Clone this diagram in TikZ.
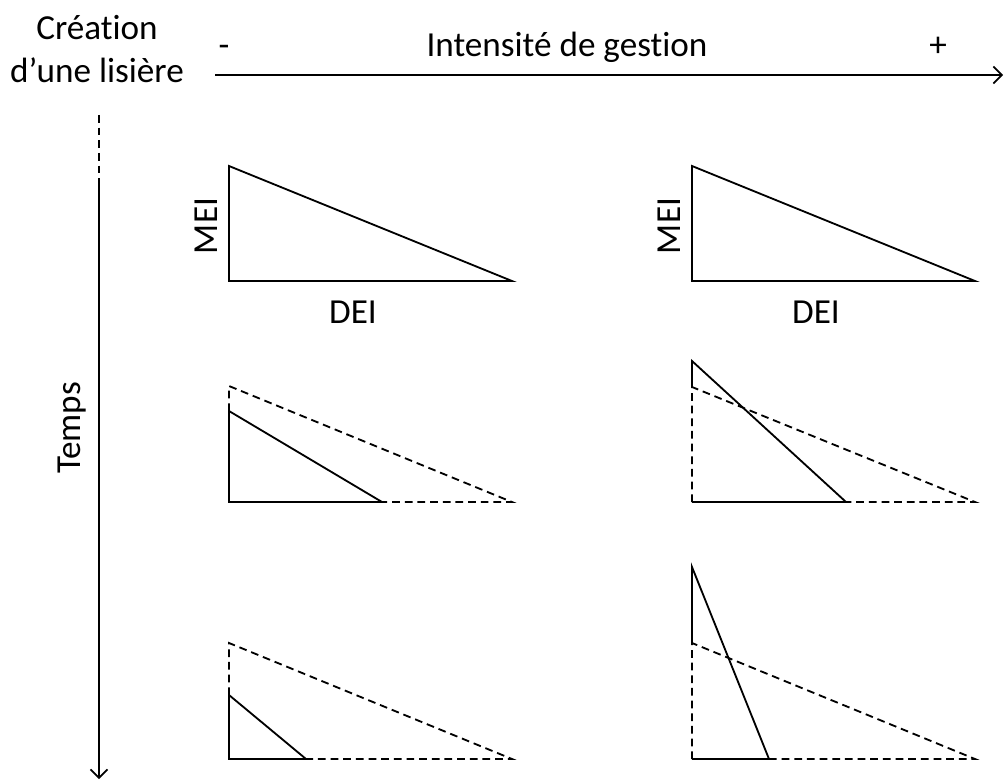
\documentclass[tikz,border=0pt]{standalone}
\usepackage{fontspec}
\setmainfont{Carlito}[Ligatures=NoCommon]
\usepackage{tikz}
\usetikzlibrary{arrows.meta,positioning}

\begin{document}
\begin{tikzpicture}[
  x=0.025cm, y=-0.025cm,
  lbl/.style={font=\fontsize{25}{30}\selectfont, inner sep=0pt},
  axe/.style={line width=1.3pt},
  fleche/.style={axe,-{Straight Barb[length=6pt,width=12pt,line width=1.2pt]}},
  tri/.style={line width=1.3pt, line join=miter},
  ancien/.style={tri, dash pattern=on 5.5pt off 3.5pt}
]
  \useasboundingbox (0,0) rectangle (1004,781);
  % titres
  \node[lbl,anchor=base] (crea)   at (97,40)  {Création};
  \node[lbl,anchor=base] (lis)    at (97,83)  {d’une lisière};
  \node[lbl,anchor=base] (moins)  at (224,57) {-};
  \node[lbl,anchor=base] (intens) at (567,57) {Intensité de gestion};
  \node[lbl,anchor=base] (plus)   at (938,57) {+};
  \node[lbl,rotate=90]   (temps)  at (72,428) {Temps};
  % axes
  \coordinate (h0) at (215,75);
  \coordinate (h1) at (1003,75);
  \coordinate (v0) at (99,115);
  \coordinate (v1) at (99,178);
  \coordinate (v2) at (99,779);
  \draw[fleche] (h0) -- (h1);
  \draw[axe,dash pattern=on 5.5pt off 3.5pt] (v0) -- (v1);
  \draw[fleche] (v1) -- (v2);
  % ligne 1
  \draw[tri] (229,166) -- (229,281) -- (512,281) -- cycle;
  \draw[tri] (692,166) -- (692,281) -- (975,281) -- cycle;
  \node[lbl,rotate=90,anchor=base] (mei1) at (217,226) {MEI};
  \node[lbl,anchor=base]           (dei1) at (353,323) {DEI};
  \node[lbl,rotate=90,anchor=base] (mei2) at (680,226) {MEI};
  \node[lbl,anchor=base]           (dei2) at (816,323) {DEI};
  % ligne 2
  \draw[tri] (229,411) -- (229,502) -- (382,502) -- cycle;
  \draw[ancien] (229,411) -- (229,386) -- (512,502) -- (382,502);
  \draw[tri] (692,387) -- (692,361) -- (846,502) -- (692,502);
  \draw[ancien] (692,502) -- (692,387) -- (975,502) -- (846,502);
  % ligne 3
  \draw[tri] (229,695) -- (229,759) -- (306,759) -- cycle;
  \draw[ancien] (229,695) -- (229,643) -- (512,759) -- (306,759);
  \draw[tri] (692,643) -- (692,567) -- (769,759) -- (692,759);
  \draw[ancien] (692,759) -- (692,643) -- (975,759) -- (769,759);
\end{tikzpicture}
\end{document}
